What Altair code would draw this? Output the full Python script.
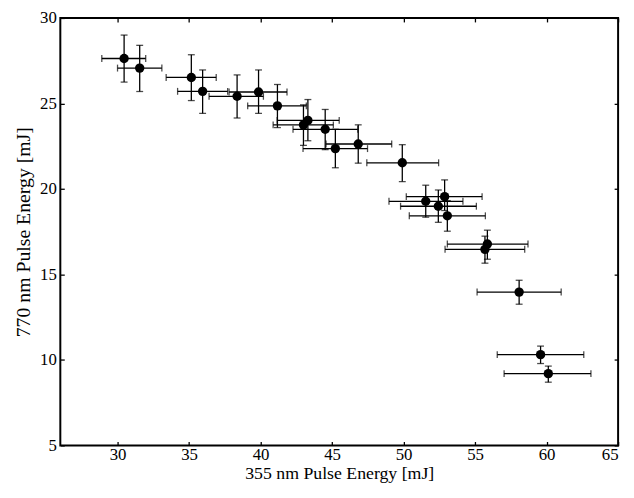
import altair as alt
import pandas as pd

x = [30.46, 31.55, 35.16, 35.95, 38.36, 39.86, 41.18, 43.31, 43.0, 44.52, 45.23,
     46.83, 49.91, 51.55, 52.87, 52.43, 53.06, 55.86, 55.69, 58.08, 59.58, 60.12]
y = [27.63, 27.07, 26.52, 25.71, 25.42, 25.67, 24.86, 24.01, 23.75, 23.49, 22.36,
     22.63, 21.53, 19.28, 19.55, 18.99, 18.43, 16.78, 16.47, 13.97, 10.31, 9.2]
xlo = [28.9, 30.0, 33.4, 34.2, 36.4, 37.8, 39.1, 41.16, 40.88, 42.27, 42.97,
       44.58, 47.43, 48.98, 50.19, 49.79, 50.4, 53.06, 52.9, 55.14, 56.55, 57.03]
xhi = [31.97, 33.1, 36.9, 37.7, 40.2, 41.85, 43.2, 45.5, 45.09, 46.8, 47.48,
       49.17, 52.45, 54.15, 55.49, 55.09, 55.72, 58.7, 58.47, 61.02, 62.6, 63.1]
ylo = [26.25, 25.7, 25.17, 24.42, 24.15, 24.42, 23.59, 22.82, 22.55, 22.3, 21.24,
       21.51, 20.43, 18.35, 18.74, 18.05, 17.53, 15.89, 15.66, 13.26, 9.79, 8.7]
yhi = [29.0, 28.4, 27.85, 26.96, 26.67, 26.96, 26.11, 25.23, 24.92, 24.65, 23.49,
       23.75, 22.59, 20.22, 20.53, 19.94, 19.32, 17.59, 17.24, 14.66, 10.81, 9.64]

x_ticks = [30, 35, 40, 45, 50, 55, 60, 65]
y_ticks = [5, 10, 15, 20, 25, 30]

df = pd.DataFrame({"x": x, "y": y, "xlo": xlo, "xhi": xhi, "ylo": ylo, "yhi": yhi})

FONT = "Liberation Serif"

xs = alt.Scale(domain=[26, 65], nice=False, zero=False)
ys = alt.Scale(domain=[5, 30], nice=False, zero=False)

xaxis = alt.Axis(values=x_ticks, title="355 nm Pulse Energy [mJ]", orient="bottom",
                 labelPadding=1, titlePadding=2, titleFontSize=18,
                 labelFontSize=17, labelFont=FONT)
yaxis = alt.Axis(values=y_ticks, title="770 nm Pulse Energy [mJ]", orient="left",
                 labelPadding=4, titlePadding=6, titleFontSize=20,
                 labelFontSize=17, labelFont=FONT)
xaxis_top = alt.Axis(values=x_ticks, orient="top", labels=False, title=None)
yaxis_right = alt.Axis(values=y_ticks, orient="right", labels=False, title=None)

base = alt.Chart(df)
SW = 1.3

xbars = base.mark_rule(color="black", strokeWidth=SW).encode(
    x=alt.X("xlo:Q", scale=xs, axis=xaxis), x2="xhi:Q",
    y=alt.Y("y:Q", scale=ys, axis=yaxis))
ybars = base.mark_rule(color="black", strokeWidth=SW).encode(
    x=alt.X("x:Q", scale=xs, axis=xaxis_top),
    y=alt.Y("ylo:Q", scale=ys, axis=yaxis_right), y2="yhi:Q")
xcap_lo = base.mark_tick(color="black", orient="vertical", size=7, thickness=SW).encode(
    x=alt.X("xlo:Q", scale=xs, axis=None), y=alt.Y("y:Q", scale=ys, axis=None))
xcap_hi = base.mark_tick(color="black", orient="vertical", size=7, thickness=SW).encode(
    x=alt.X("xhi:Q", scale=xs, axis=None), y=alt.Y("y:Q", scale=ys, axis=None))
ycap_lo = base.mark_tick(color="black", orient="horizontal", size=7, thickness=SW).encode(
    x=alt.X("x:Q", scale=xs, axis=None), y=alt.Y("ylo:Q", scale=ys, axis=None))
ycap_hi = base.mark_tick(color="black", orient="horizontal", size=7, thickness=SW).encode(
    x=alt.X("x:Q", scale=xs, axis=None), y=alt.Y("yhi:Q", scale=ys, axis=None))
pts = base.mark_circle(color="black", opacity=1, size=90).encode(
    x=alt.X("x:Q", scale=xs, axis=None), y=alt.Y("y:Q", scale=ys, axis=None))

chart = alt.layer(
    xbars, ybars, xcap_lo, xcap_hi, ycap_lo, ycap_hi, pts,
).resolve_axis(x="independent", y="independent").properties(
    width=565, height=433,
    autosize=alt.AutoSizeParams(type="none"),
    padding={"left": 53, "top": 7, "right": 8, "bottom": 40},
).configure(background="white").configure_view(
    stroke="black", strokeWidth=2
).configure_axis(
    grid=False, domain=False, tickSize=4, offset=-4, tickColor="black",
    tickWidth=1.3, labelFont=FONT,
    titleFont=FONT, labelColor="black", titleColor="black",
    titleFontWeight="normal",
)

chart.save("out.html", embed_options={"renderer": "svg", "actions": False})
